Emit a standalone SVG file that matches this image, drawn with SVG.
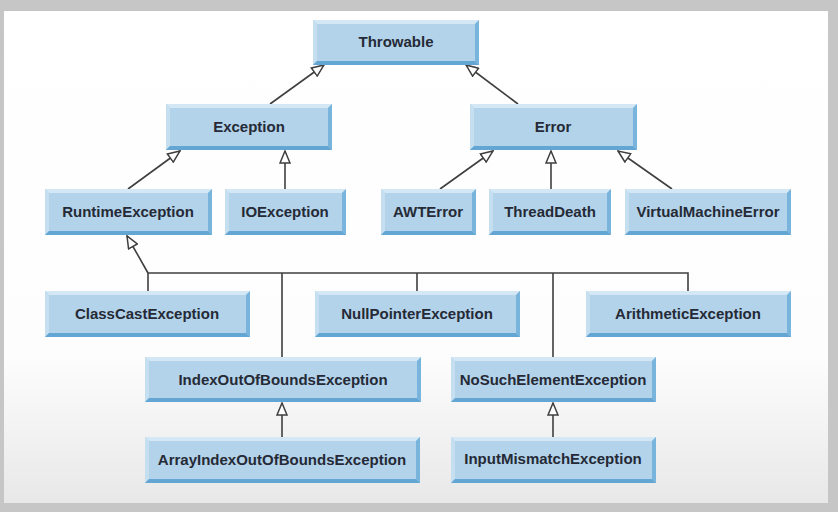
<svg xmlns="http://www.w3.org/2000/svg" width="838" height="512" viewBox="0 0 838 512">
<style>
.base{fill:#b3d3ea}
.top{fill:#d3e7f4}
.lft{fill:#c6dff0}
.rgt{fill:#78b4dc}
.bot{fill:#63a6d4}
.lbl{font-family:"Liberation Sans",Arial,sans-serif;font-weight:bold;font-size:15px;fill:#252a36;text-anchor:middle}
.conn{fill:none;stroke:#3f3f3f;stroke-width:1.6}
</style>
<defs>
<linearGradient id="bg" x1="0" y1="0" x2="0" y2="1">
<stop offset="0" stop-color="#ffffff"/>
<stop offset="0.7" stop-color="#fdfdfd"/>
<stop offset="1" stop-color="#e8e8e8"/>
</linearGradient>
<marker id="tri" viewBox="0 0 14 12" refX="13" refY="6" markerWidth="14" markerHeight="12" markerUnits="userSpaceOnUse" orient="auto">
<path d="M1,1 L13,6 L1,11 Z" fill="#ffffff" stroke="#3f3f3f" stroke-width="1.5" stroke-linejoin="miter"/>
</marker>
</defs>
<rect x="0" y="0" width="838" height="512" fill="#c6c6c6"/>
<rect x="4" y="11" width="824" height="492" fill="url(#bg)"/>

<g id="connectors">
<line class="conn" x1="270" y1="104" x2="324" y2="65" marker-end="url(#tri)"/>
<line class="conn" x1="518" y1="104" x2="466" y2="65" marker-end="url(#tri)"/>
<line class="conn" x1="128" y1="189" x2="180" y2="151" marker-end="url(#tri)"/>
<line class="conn" x1="285" y1="189" x2="285" y2="151" marker-end="url(#tri)"/>
<line class="conn" x1="440" y1="189" x2="493" y2="151" marker-end="url(#tri)"/>
<line class="conn" x1="551" y1="189" x2="551" y2="151" marker-end="url(#tri)"/>
<line class="conn" x1="672" y1="189" x2="618" y2="151" marker-end="url(#tri)"/>
<path class="conn" d="M148,291 V273 H688 V291 M282,273 V357 M417,273 V291 M553,273 V357"/>
<line class="conn" x1="148" y1="273" x2="127" y2="236" marker-end="url(#tri)"/>
<line class="conn" x1="282" y1="437" x2="282" y2="403" marker-end="url(#tri)"/>
<line class="conn" x1="553" y1="437" x2="553" y2="403" marker-end="url(#tri)"/>
</g>

<g id="throwable">
<rect class="base" x="313" y="20" width="166" height="45"/>
<polygon class="top" points="313,20 479,20 475,24 317,24"/>
<polygon class="lft" points="313,20 317,24 317,61 313,65"/>
<polygon class="rgt" points="479,20 479,65 475,61 475,24"/>
<polygon class="bot" points="313,65 479,65 475,61 317,61"/>
<text class="lbl" x="396" y="47">Throwable</text>
</g>

<g id="exception">
<rect class="base" x="166" y="104" width="166" height="46"/>
<polygon class="top" points="166,104 332,104 328,108 170,108"/>
<polygon class="lft" points="166,104 170,108 170,146 166,150"/>
<polygon class="rgt" points="332,104 332,150 328,146 328,108"/>
<polygon class="bot" points="166,150 332,150 328,146 170,146"/>
<text class="lbl" x="249" y="132">Exception</text>
</g>

<g id="error">
<rect class="base" x="470" y="104" width="167" height="46"/>
<polygon class="top" points="470,104 637,104 633,108 474,108"/>
<polygon class="lft" points="470,104 474,108 474,146 470,150"/>
<polygon class="rgt" points="637,104 637,150 633,146 633,108"/>
<polygon class="bot" points="470,150 637,150 633,146 474,146"/>
<text class="lbl" x="553" y="132">Error</text>
</g>

<g id="runtimeexception">
<rect class="base" x="45" y="189" width="167" height="46"/>
<polygon class="top" points="45,189 212,189 208,193 49,193"/>
<polygon class="lft" points="45,189 49,193 49,231 45,235"/>
<polygon class="rgt" points="212,189 212,235 208,231 208,193"/>
<polygon class="bot" points="45,235 212,235 208,231 49,231"/>
<text class="lbl" x="128" y="217">RuntimeException</text>
</g>

<g id="ioexception">
<rect class="base" x="225" y="189" width="121" height="46"/>
<polygon class="top" points="225,189 346,189 342,193 229,193"/>
<polygon class="lft" points="225,189 229,193 229,231 225,235"/>
<polygon class="rgt" points="346,189 346,235 342,231 342,193"/>
<polygon class="bot" points="225,235 346,235 342,231 229,231"/>
<text class="lbl" x="285" y="217">IOException</text>
</g>

<g id="awterror">
<rect class="base" x="381" y="189" width="95" height="46"/>
<polygon class="top" points="381,189 476,189 472,193 385,193"/>
<polygon class="lft" points="381,189 385,193 385,231 381,235"/>
<polygon class="rgt" points="476,189 476,235 472,231 472,193"/>
<polygon class="bot" points="381,235 476,235 472,231 385,231"/>
<text class="lbl" x="428" y="217">AWTError</text>
</g>

<g id="threaddeath">
<rect class="base" x="489" y="189" width="122" height="46"/>
<polygon class="top" points="489,189 611,189 607,193 493,193"/>
<polygon class="lft" points="489,189 493,193 493,231 489,235"/>
<polygon class="rgt" points="611,189 611,235 607,231 607,193"/>
<polygon class="bot" points="489,235 611,235 607,231 493,231"/>
<text class="lbl" x="550" y="217">ThreadDeath</text>
</g>

<g id="virtualmachineerror">
<rect class="base" x="625" y="189" width="166" height="46"/>
<polygon class="top" points="625,189 791,189 787,193 629,193"/>
<polygon class="lft" points="625,189 629,193 629,231 625,235"/>
<polygon class="rgt" points="791,189 791,235 787,231 787,193"/>
<polygon class="bot" points="625,235 791,235 787,231 629,231"/>
<text class="lbl" x="708" y="217">VirtualMachineError</text>
</g>

<g id="classcastexception">
<rect class="base" x="45" y="291" width="205" height="46"/>
<polygon class="top" points="45,291 250,291 246,295 49,295"/>
<polygon class="lft" points="45,291 49,295 49,333 45,337"/>
<polygon class="rgt" points="250,291 250,337 246,333 246,295"/>
<polygon class="bot" points="45,337 250,337 246,333 49,333"/>
<text class="lbl" x="147" y="319">ClassCastException</text>
</g>

<g id="nullpointerexception">
<rect class="base" x="315" y="291" width="205" height="46"/>
<polygon class="top" points="315,291 520,291 516,295 319,295"/>
<polygon class="lft" points="315,291 319,295 319,333 315,337"/>
<polygon class="rgt" points="520,291 520,337 516,333 516,295"/>
<polygon class="bot" points="315,337 520,337 516,333 319,333"/>
<text class="lbl" x="417" y="319">NullPointerException</text>
</g>

<g id="arithmeticexception">
<rect class="base" x="586" y="291" width="205" height="46"/>
<polygon class="top" points="586,291 791,291 787,295 590,295"/>
<polygon class="lft" points="586,291 590,295 590,333 586,337"/>
<polygon class="rgt" points="791,291 791,337 787,333 787,295"/>
<polygon class="bot" points="586,337 791,337 787,333 590,333"/>
<text class="lbl" x="688" y="319">ArithmeticException</text>
</g>

<g id="indexoutofboundsexception">
<rect class="base" x="145" y="357" width="276" height="45"/>
<polygon class="top" points="145,357 421,357 417,361 149,361"/>
<polygon class="lft" points="145,357 149,361 149,398 145,402"/>
<polygon class="rgt" points="421,357 421,402 417,398 417,361"/>
<polygon class="bot" points="145,402 421,402 417,398 149,398"/>
<text class="lbl" x="283" y="385">IndexOutOfBoundsException</text>
</g>

<g id="nosuchelementexception">
<rect class="base" x="451" y="357" width="205" height="45"/>
<polygon class="top" points="451,357 656,357 652,361 455,361"/>
<polygon class="lft" points="451,357 455,361 455,398 451,402"/>
<polygon class="rgt" points="656,357 656,402 652,398 652,361"/>
<polygon class="bot" points="451,402 656,402 652,398 455,398"/>
<text class="lbl" x="553" y="385">NoSuchElementException</text>
</g>

<g id="arrayindexoutofboundsexception">
<rect class="base" x="145" y="437" width="275" height="46"/>
<polygon class="top" points="145,437 420,437 416,441 149,441"/>
<polygon class="lft" points="145,437 149,441 149,479 145,483"/>
<polygon class="rgt" points="420,437 420,483 416,479 416,441"/>
<polygon class="bot" points="145,483 420,483 416,479 149,479"/>
<text class="lbl" x="282" y="465">ArrayIndexOutOfBoundsException</text>
</g>

<g id="inputmismatchexception">
<rect class="base" x="451" y="437" width="205" height="46"/>
<polygon class="top" points="451,437 656,437 652,441 455,441"/>
<polygon class="lft" points="451,437 455,441 455,479 451,483"/>
<polygon class="rgt" points="656,437 656,483 652,479 652,441"/>
<polygon class="bot" points="451,483 656,483 652,479 455,479"/>
<text class="lbl" x="553" y="464">InputMismatchException</text>
</g>
</svg>
